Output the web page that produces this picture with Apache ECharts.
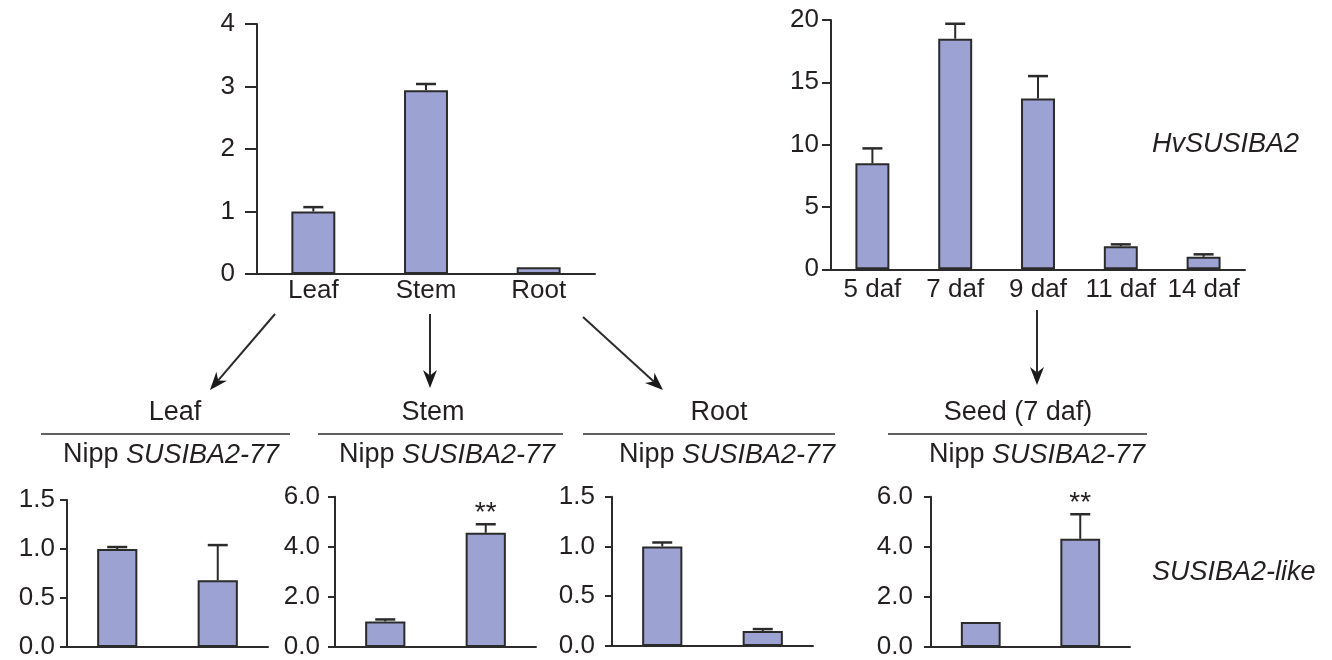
<!DOCTYPE html>
<html>
<head>
<meta charset="utf-8">
<script src="https://cdn.jsdelivr.net/npm/echarts@6/dist/echarts.min.js"></script>
<style>
html,body{margin:0;padding:0;background:#fff;}
#c{width:1332px;height:660px;}
</style>
</head>
<body>
<div id="c"></div>
<script>
// ---------- data ----------
const tissueCats = ['Leaf', 'Stem', 'Root'];
const tissueVals = [1.0, 2.94, 0.11];
const tissueErr  = [1.07, 3.04, 0.115];

const seedCats = ['5 daf', '7 daf', '9 daf', '11 daf', '14 daf'];
const seedStageVals = [8.5, 18.5, 13.7, 1.85, 1.0];
const seedStageErr  = [9.7, 19.7, 15.5, 2.0, 1.2];

const lineCats = ['Nipp', 'SUSIBA2-77'];
const leafVals = [1.0, 0.68];
const leafErr  = [1.02, 1.04];
const stemVals = [1.02, 4.56];
const stemErr  = [1.1, 4.9];
const rootVals = [1.0, 0.15];
const rootErr  = [1.04, 0.17];
const seedVals = [1.0, 4.32];
const seedErr  = [1.0, 5.3];
const stemSig = ['', '**'];
const seedSig = ['', '**'];

const panelTitles = ['Leaf', 'Stem', 'Root', 'Seed (7 daf)'];
const geneTop = 'HvSUSIBA2';
const geneBottom = 'SUSIBA2-like';

// ---------- style ----------
const FONT = "'Liberation Sans', Arial, Helvetica, sans-serif";
const TXT = '#231f20';
const AX = '#2b2b2b';
const BAR = '#9ca2d2';
const FS = 26;
const HFS = 27;

const panels = [
  {grid:{left:257, top:24, width:338, height:250}, cats:tissueCats, vals:tissueVals, err:tissueErr, sig:null,
   y:{max:4, interval:1, fmt:v=>String(v), margin:22, tick:12}, showX:true, xMargin:4, barW:'39%', cap:20},
  {grid:{left:831, top:20, width:414, height:249.3}, cats:seedCats, vals:seedStageVals, err:seedStageErr, sig:null,
   y:{max:20, interval:5, fmt:v=>String(v), margin:12, tick:9}, showX:true, xMargin:8, barW:'41%', cap:20},
  {grid:{left:67, top:500, width:201, height:149.3}, cats:lineCats, vals:leafVals, err:leafErr, sig:null,
   y:{max:1.5, interval:0.5, fmt:v=>v.toFixed(1), margin:12, tick:7}, showX:false, barW:'40%', cap:20},
  {grid:{left:335, top:496.7, width:201, height:151}, cats:lineCats, vals:stemVals, err:stemErr, sig:stemSig,
   y:{max:6, interval:2, fmt:v=>v.toFixed(1), margin:15, tick:7}, showX:false, barW:'40%', cap:20},
  {grid:{left:612, top:496.7, width:201, height:149.3}, cats:lineCats, vals:rootVals, err:rootErr, sig:null,
   y:{max:1.5, interval:0.5, fmt:v=>v.toFixed(1), margin:17, tick:7}, showX:false, barW:'40%', cap:20},
  {grid:{left:931, top:496.7, width:199, height:151}, cats:lineCats, vals:seedVals, err:seedErr, sig:seedSig,
   y:{max:6, interval:2, fmt:v=>v.toFixed(1), margin:18, tick:7}, showX:false, barW:'40%', cap:20}
];

const grid = [], xAxis = [], yAxis = [], series = [];
panels.forEach((p, i) => {
  grid.push(Object.assign({containLabel:false}, p.grid));
  xAxis.push({
    type:'category', gridIndex:i, data:p.cats,
    axisLine:{show:true, lineStyle:{color:AX, width:2}},
    axisTick:{show:false},
    axisLabel:{show:p.showX, color:TXT, fontSize:FS, fontFamily:FONT, margin:p.xMargin||8, interval:0},
    splitLine:{show:false}
  });
  yAxis.push({
    type:'value', gridIndex:i, min:0, max:p.y.max, interval:p.y.interval,
    axisLine:{show:true, lineStyle:{color:AX, width:2}},
    axisTick:{show:true, length:p.y.tick, lineStyle:{color:AX, width:2}},
    axisLabel:{color:TXT, fontSize:FS, fontFamily:FONT, margin:p.y.margin, formatter:p.y.fmt},
    splitLine:{show:false}
  });
  series.push({
    type:'bar', xAxisIndex:i, yAxisIndex:i, data:p.vals, barWidth:p.barW,
    itemStyle:{color:BAR, borderColor:AX, borderWidth:2},
    silent:true, animation:false, z:2
  });
  const errData = p.vals.map((v, k) => [k, v, p.err[k], p.sig ? p.sig[k] : '']);
  series.push({
    type:'custom', xAxisIndex:i, yAxisIndex:i, data:errData, z:3, silent:true, animation:false,
    renderItem:(params, api) => {
      const k = api.value(0);
      const base = api.coord([k, api.value(1)]);
      const top = api.coord([k, api.value(2)]);
      const half = p.cap / 2;
      const children = [];
      if (Math.abs(base[1] - top[1]) > 0.5) {
        children.push({type:'line', shape:{x1:top[0], y1:base[1], x2:top[0], y2:top[1]}, style:{stroke:AX, lineWidth:2}});
        children.push({type:'line', shape:{x1:top[0]-half, y1:top[1], x2:top[0]+half, y2:top[1]}, style:{stroke:AX, lineWidth:2.5}});
      }
      const s = errData[params.dataIndex][3];
      if (s) {
        children.push({type:'text', style:{text:s, x:top[0], y:top[1]-11, align:'center', verticalAlign:'middle',
          fontSize:28, fontFamily:FONT, fill:TXT}});
      }
      return {type:'group', children};
    }
  });
});

// ---------- annotations ----------
const graphic = [];
function arrow(x1, y1, x2, y2) {
  const dx = x2 - x1, dy = y2 - y1, L = Math.hypot(dx, dy);
  const ux = dx / L, uy = dy / L, hl = 18, hw = 7;
  const bx = x2 - ux * hl, by = y2 - uy * hl;
  const mx = x2 - ux * hl * 0.7, my = y2 - uy * hl * 0.7;
  graphic.push({type:'line', shape:{x1, y1, x2:mx, y2:my}, style:{stroke:AX, lineWidth:2}, silent:true});
  graphic.push({type:'polygon', shape:{points:[[x2, y2], [bx - uy*hw, by + ux*hw], [mx, my], [bx + uy*hw, by - ux*hw]]},
    style:{fill:'#1a1a1a'}, silent:true});
}
arrow(275, 314, 210, 390);
arrow(430, 314, 430, 388);
arrow(583, 317, 663, 390);
arrow(1037, 310, 1037, 385);

const heads = [
  {t:panelTitles[0], cx:175, l1:41, l2:290, nx:171},
  {t:panelTitles[1], cx:433, l1:318, l2:563, nx:447},
  {t:panelTitles[2], cx:719, l1:583, l2:835, nx:727},
  {t:panelTitles[3], cx:1018, l1:888, l2:1147, nx:1037}
];
heads.forEach(h => {
  graphic.push({type:'text', x:h.cx, y:413, style:{text:h.t, align:'center', verticalAlign:'middle', fontSize:HFS, fontFamily:FONT, fill:TXT}, silent:true});
  graphic.push({type:'line', shape:{x1:h.l1, y1:434, x2:h.l2, y2:434}, style:{stroke:AX, lineWidth:1.5}, silent:true});
  graphic.push({type:'text', x:h.nx, y:455, style:{text:lineCats[0] + ' {i|' + lineCats[1] + '}', align:'center', verticalAlign:'middle',
    fontSize:HFS, fontFamily:FONT, fill:TXT, rich:{i:{fontStyle:'italic', fontSize:HFS, fontFamily:FONT, fill:TXT}}}, silent:true});
});
graphic.push({type:'text', x:1152, y:144, style:{text:geneTop, align:'left', verticalAlign:'middle', fontSize:HFS, fontStyle:'italic', fontFamily:FONT, fill:TXT}, silent:true});
graphic.push({type:'text', x:1152, y:572, style:{text:geneBottom, align:'left', verticalAlign:'middle', fontSize:HFS, fontStyle:'italic', fontFamily:FONT, fill:TXT}, silent:true});

const chart = echarts.init(document.getElementById('c'), null, {renderer:'canvas'});
chart.setOption({
  animation:false,
  backgroundColor:'#ffffff',
  textStyle:{fontFamily:FONT},
  grid, xAxis, yAxis, series, graphic
});
</script>
</body>
</html>
